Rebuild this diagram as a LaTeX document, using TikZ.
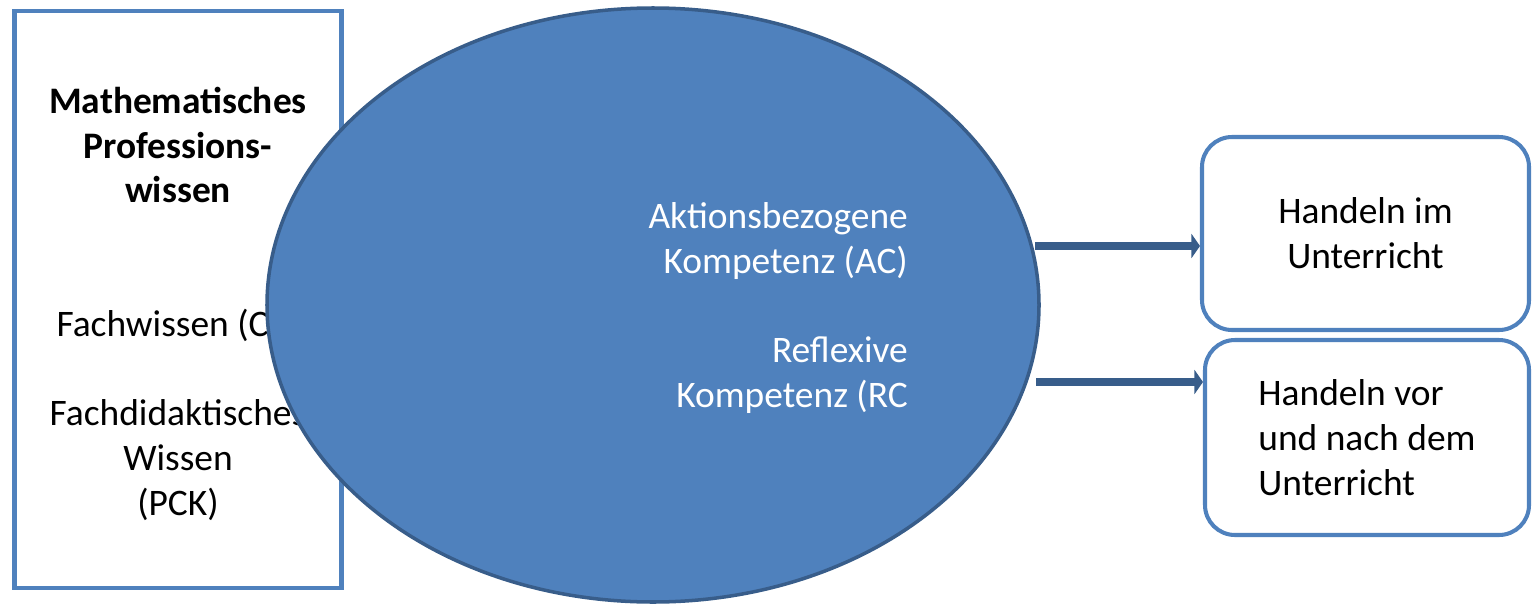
\documentclass[tikz,border=0pt]{standalone}
\usepackage{fontspec}
\setmainfont{Carlito}
\usetikzlibrary{arrows.meta,shapes.geometric}

\definecolor{accblue}{HTML}{4F81BD}
\definecolor{darkblue}{HTML}{385D8A}

\tikzset{
  bigtext/.style={font=\fontsize{21.3}{25.5}\selectfont},
  wissenbox/.style={draw=accblue, line width=2.3pt, fill=white, inner sep=0pt},
  handbox/.style={wissenbox, rounded corners=0.6cm, bigtext},
  kompetenz/.style={ellipse, draw=darkblue, line width=2pt, fill=accblue, inner sep=0pt},
  flow/.style={darkblue, line width=4.4pt, -{Triangle[length=0.17cm, width=0.48cm]}}
}

\begin{document}
\begin{tikzpicture}

\useasboundingbox (0,0) rectangle (30.68,12.08);

% Professionswissen
\node[wissenbox, minimum width=6.54cm, minimum height=11.54cm] (pw) at (3.56,6.09) {};
\node[bigtext, align=center, font=\fontsize{21.3}{25.5}\selectfont\bfseries] (pwtitle) at (3.56,9.18) {Mathematisches\\Professions-\\wissen};
\node[bigtext] (ck) at (3.56,5.58) {Fachwissen (CK)};
\node[bigtext, align=center] (pck) at (3.56,2.88) {Fachdidaktisches\\Wissen\\(PCK)};

% Kompetenzen
\node[kompetenz, minimum width=15.44cm, minimum height=11.88cm] (komp) at (13.06,5.98) {};
\node[bigtext, text=white, align=right, anchor=east] (komptext) at (18.28,5.92)
  {Aktionsbezogene\\Kompetenz (AC)\\[25.5pt]Reflexive\\Kompetenz (RC};

% Handeln
\node[handbox, minimum width=6.54cm, minimum height=3.86cm, align=center] (imU) at (27.31,7.41) {Handeln im\\Unterricht};
\node[handbox, minimum width=6.48cm, minimum height=3.9cm, align=left] (vorU) at (27.34,3.33) {Handeln vor\\und nach dem\\Unterricht};

% Arrows
\coordinate (a1) at (20.70,7.16);
\coordinate (a2) at (20.72,4.44);
\draw[flow] (a1) -- (imU.west |- a1);
\draw[flow] (a2) -- (vorU.west |- a2);

\end{tikzpicture}
\end{document}
